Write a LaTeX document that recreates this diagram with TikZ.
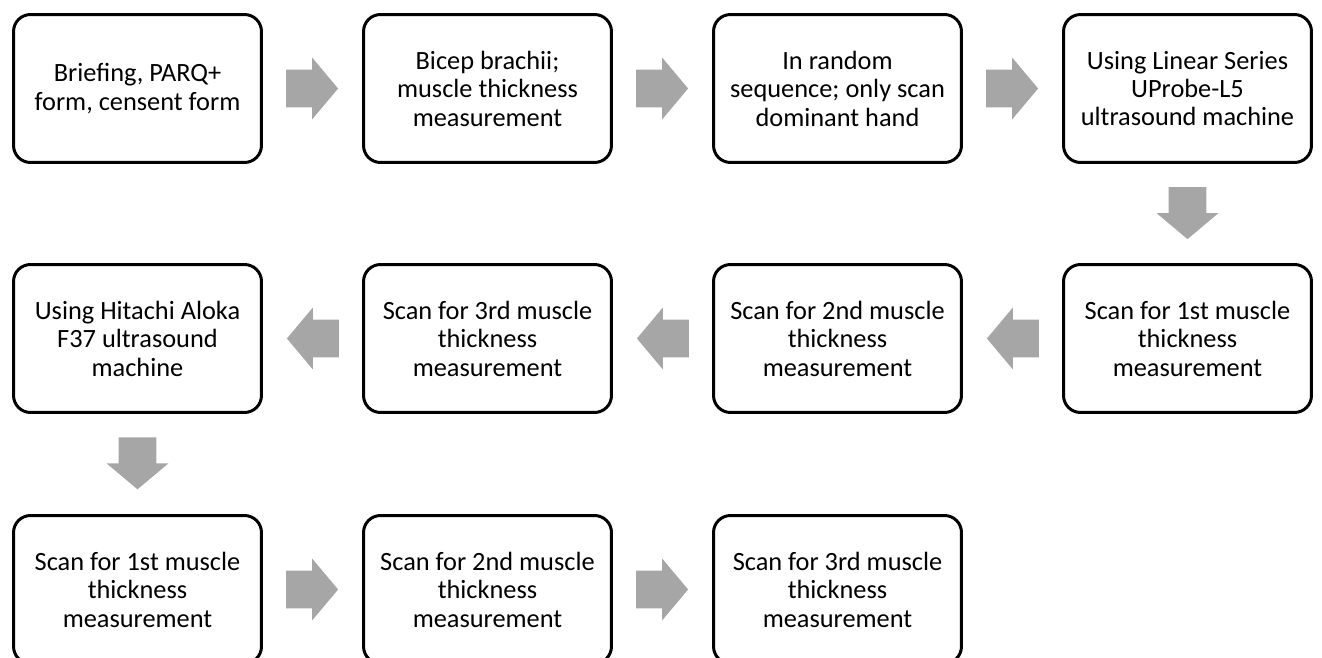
\documentclass[tikz,border=0pt]{standalone}
\usepackage{fontspec}
\setmainfont{Carlito}
\usetikzlibrary{shapes.arrows}
\definecolor{arrowgray}{RGB}{166,166,166}
\tikzset{
    stepbox/.style={draw, line width=1.7pt, rounded corners=0.34cm,
        minimum width=4.96cm, minimum height=2.96cm, inner sep=0pt,
        align=center, font=\fontsize{15}{16.2}\selectfont},
    blockarrow/.style={single arrow, fill=arrowgray, draw=none,
        inner xsep=0pt, inner ysep=0.37cm, minimum height=1.04cm,
        single arrow head extend=0.24cm, single arrow tip angle=100,
        sloped, allow upside down, pos=0.23, anchor=tail}
}
\begin{document}
\begin{tikzpicture}[x=0.02cm, y=-0.02cm]
        \useasboundingbox (0,0) rectangle (1322,658);

        % Row 1: preparation, left to right
        \node[stepbox] (brief)   at ( 137.5, 88.5) {Briefing, PARQ+\\form, censent form};
        \node[stepbox] (bicep)   at ( 487.5, 88.5) {Bicep brachii;\\muscle thickness\\measurement};
        \node[stepbox] (random)  at ( 837.5, 88.5) {In random\\sequence; only scan\\dominant hand};
        \node[stepbox] (linear)  at (1187.5, 88.5) {Using Linear Series\\UProbe-L5\\ultrasound machine};

        % Row 2: right to left
        \node[stepbox] (linA)    at (1187.5,338.5) {Scan for 1st muscle\\thickness\\measurement};
        \node[stepbox] (linB)    at ( 837.5,338.5) {Scan for 2nd muscle\\thickness\\measurement};
        \node[stepbox] (linC)    at ( 487.5,338.5) {Scan for 3rd muscle\\thickness\\measurement};
        \node[stepbox] (hitachi) at ( 137.5,338.5) {Using Hitachi Aloka\\F37 ultrasound\\machine};

        % Row 3: left to right
        \node[stepbox] (hitA)    at ( 137.5,589.5) {Scan for 1st muscle\\thickness\\measurement};
        \node[stepbox] (hitB)    at ( 487.5,589.5) {Scan for 2nd muscle\\thickness\\measurement};
        \node[stepbox] (hitC)    at ( 837.5,589.5) {Scan for 3rd muscle\\thickness\\measurement};

        \foreach \a/\b in {brief/bicep, bicep/random, random/linear, linear/linA,
                linA/linB, linB/linC, linC/hitachi, hitachi/hitA, hitA/hitB, hitB/hitC}
            \path (\a) -- node[blockarrow] {} (\b);
    \end{tikzpicture}
\end{document}
